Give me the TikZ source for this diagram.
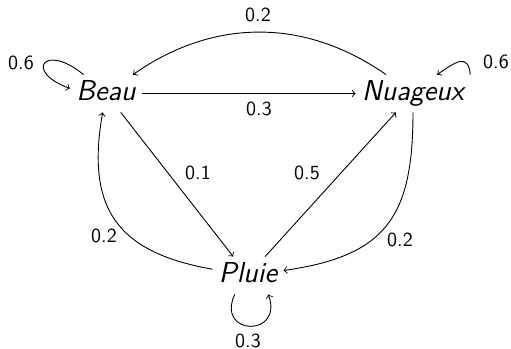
\documentclass[tikz,border=0pt]{standalone}
\begin{document}
\begin{tikzpicture}[x=0.5pt,y=0.5pt,
  state/.style={font=\sffamily\Large\itshape, inner sep=3pt, text height=10pt, text depth=2.5pt},
  prob/.style={font=\sffamily\normalsize, inner sep=0pt},
  trans/.style={->, line width=0.45pt}]
\useasboundingbox (0,0) rectangle (511,349);
% states
\node[state] (beau) at (106,255.5) {Beau};
\node[state] (nuag) at (413,255.5) {Nuageux};
\node[state] (pluie) at (248,73.5) {Pluie};
% transitions
\draw[trans] (beau.140) .. controls +(140:25pt) and +(160:25pt) .. (beau.172);
\draw[trans] (beau) -- (nuag);
\draw[trans] (nuag) to[out=145,in=35] (beau);
\draw[trans] (beau) -- (pluie);
\draw[trans] (pluie) to[out=170,in=-100,looseness=1.3] (beau);
\draw[trans] (pluie) -- (nuag);
\draw[trans] (nuag) to[out=-90,in=8,looseness=1.3] (pluie);
\draw[trans] (nuag.north east) .. controls +(95:11pt) and +(35:11pt) .. (nuag.38);
\draw[trans] (pluie.235) .. controls +(245:23pt) and +(290:23pt) .. (pluie.317);
% probabilities
\node[prob] (p-bb) at (21,286.5) {0.6};
\node[prob] (p-nn) at (496,287) {0.6};
\node[prob] (p-nb) at (258,334) {0.2};
\node[prob] (p-bn) at (259,240) {0.3};
\node[prob] (p-bp) at (198,176) {0.1};
\node[prob] (p-pn) at (307,176.5) {0.5};
\node[prob] (p-pb) at (104,113) {0.2};
\node[prob] (p-np) at (400,109) {0.2};
\node[prob] (p-pp) at (248,8.5) {0.3};
\end{tikzpicture}
\end{document}
